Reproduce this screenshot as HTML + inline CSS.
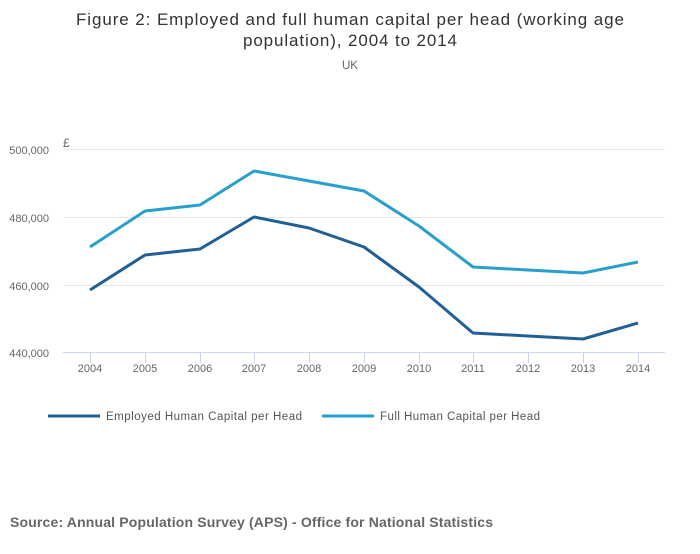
<!DOCTYPE html>
<html><head><meta charset="utf-8"><style>
body{margin:0;background:#fff;width:700px;height:549px;overflow:hidden}
svg{font-family:"Liberation Sans",sans-serif}
</style></head><body>
<svg width="700" height="549" xmlns="http://www.w3.org/2000/svg">
<text x="76" y="25" font-size="17" fill="#333" textLength="548" lengthAdjust="spacing">Figure 2: Employed and full human capital per head (working age</text>
<text x="243" y="46" font-size="17" fill="#333" textLength="214" lengthAdjust="spacing">population), 2004 to 2014</text>
<text x="350" y="69" text-anchor="middle" font-size="11.5" fill="#666">UK</text>
<text x="63" y="147" font-size="12" fill="#666">£</text>
<g stroke="#e6e6e6" stroke-width="1">
<line x1="63" y1="149.5" x2="665" y2="149.5"/><line x1="63" y1="217.5" x2="665" y2="217.5"/><line x1="63" y1="285.5" x2="665" y2="285.5"/>
</g>
<line x1="63" y1="352.5" x2="665" y2="352.5" stroke="#ccd6eb"/>
<g stroke="#ccd6eb">
<line x1="90.5" y1="353" x2="90.5" y2="363"/><line x1="145.5" y1="353" x2="145.5" y2="363"/><line x1="200.5" y1="353" x2="200.5" y2="363"/><line x1="254.5" y1="353" x2="254.5" y2="363"/><line x1="309.5" y1="353" x2="309.5" y2="363"/><line x1="364.5" y1="353" x2="364.5" y2="363"/><line x1="419.5" y1="353" x2="419.5" y2="363"/><line x1="473.5" y1="353" x2="473.5" y2="363"/><line x1="528.5" y1="353" x2="528.5" y2="363"/><line x1="583.5" y1="353" x2="583.5" y2="363"/><line x1="638.5" y1="353" x2="638.5" y2="363"/>
</g>
<g font-size="11" fill="#666" text-anchor="end">
<text x="49" y="154">500,000</text><text x="49" y="222">480,000</text><text x="49" y="290">460,000</text><text x="49" y="357">440,000</text>
</g>
<g font-size="11" fill="#666" text-anchor="middle">
<text x="90" y="372">2004</text><text x="145" y="372">2005</text><text x="200" y="372">2006</text><text x="254" y="372">2007</text><text x="309" y="372">2008</text><text x="364" y="372">2009</text><text x="419" y="372">2010</text><text x="473" y="372">2011</text><text x="528" y="372">2012</text><text x="583" y="372">2013</text><text x="638" y="372">2014</text>
</g>
<polyline fill="none" stroke="#27a0cc" stroke-width="3" stroke-linejoin="round" points="90,247 145,211 200,205 254,171 309,181 364,191 419,226 473,267 528,270 583,273 638,262"/>
<polyline fill="none" stroke="#206095" stroke-width="3" stroke-linejoin="round" points="90,290 145,255 200,249 254,217 309,228 364,247 419,287 473,333 528,336 583,339 638,323"/>
<line x1="48" y1="416" x2="100" y2="416" stroke="#206095" stroke-width="3"/>
<text x="106" y="420" font-size="11.5" fill="#555" textLength="196" lengthAdjust="spacing">Employed Human Capital per Head</text>
<line x1="322" y1="416" x2="374" y2="416" stroke="#27a0cc" stroke-width="3"/>
<text x="380" y="420" font-size="11.5" fill="#555" textLength="160" lengthAdjust="spacing">Full Human Capital per Head</text>
<text x="10" y="527" font-size="14" font-weight="bold" fill="#666" textLength="483" lengthAdjust="spacing">Source: Annual Population Survey (APS) - Office for National Statistics</text>
</svg>
</body></html>
